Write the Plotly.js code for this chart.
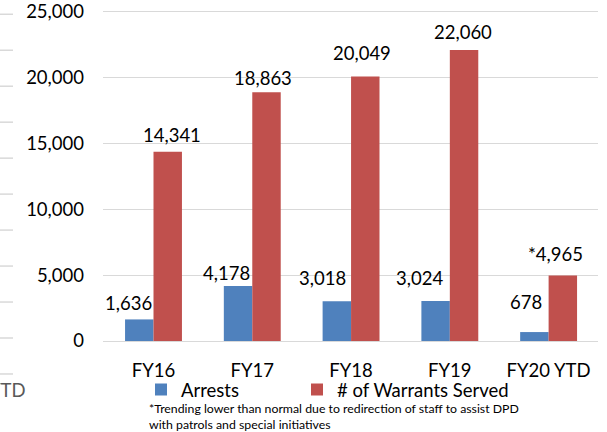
<!DOCTYPE html>
<html>
<head>
<meta charset="utf-8">
<script src="https://cdn.plot.ly/plotly-3.0.1.min.js"></script>
<style>html,body{margin:0;padding:0;background:#fff;}#chart{width:607px;height:432px;}</style>
</head>
<body>
<div id="chart"></div>
<script>
// ---- data ----
var categories = ['FY16', 'FY17', 'FY18', 'FY19', 'FY20 YTD'];
var arrests = [1636, 4178, 3018, 3024, 678];
var warrants = [14341, 18863, 20049, 22060, 4965];
var warrantsMark = ['', '', '', '', '*'];
var yTickVals = [0, 5000, 10000, 15000, 20000, 25000];
var yTickText = ['0', '5,000', '10,000', '15,000', '20,000', '25,000'];
var seriesNames = ['Arrests', '# of Warrants Served'];
var footnote = '*Trending lower than normal due to redirection of staff to assist DPD<br>with patrols and special initiatives';

// ---- label placement (px offsets, layout only) ----
var blueDx = [-25, -25.5, -28.5, -30.5, -23];
var blueDy = [16, 13, 23, 23, 30];
var redDx = [18.5, 10.5, 10.5, 13.5, 6.5];
var redDy = [17, 14, 24, 18, 21.5];

var FONT = 'Lato, "Open Sans", sans-serif';
function fmt(v) { return v.toLocaleString('en-US'); }

var traces = [
  {type: 'bar', name: seriesNames[0], x: categories, y: arrests, legend: 'legend',
   marker: {color: '#4F81BD'}, hoverinfo: 'skip'},
  {type: 'bar', name: seriesNames[1], x: categories, y: warrants, legend: 'legend2',
   marker: {color: '#C0504D'}, hoverinfo: 'skip'}
];

// plot geometry: zero line at y=341px, 25,000 at y=11px
var Y_MAX = 25400;
var PLOT_H = Y_MAX * 330 / 25000;
var TOP = 341 - PLOT_H;
function py2paper(py) { return (341 - py) / PLOT_H; }

var annotations = [];
categories.forEach(function (c, i) {
  annotations.push({x: c, y: arrests[i], xref: 'x', yref: 'y', text: fmt(arrests[i]),
    showarrow: false, xanchor: 'center', yanchor: 'middle', xshift: blueDx[i], yshift: blueDy[i],
    font: {family: FONT, size: 18.5, color: '#000'}});
  annotations.push({x: c, y: warrants[i], xref: 'x', yref: 'y', text: warrantsMark[i] + fmt(warrants[i]),
    showarrow: false, xanchor: 'center', yanchor: 'middle', xshift: redDx[i], yshift: redDy[i],
    font: {family: FONT, size: 18.5, color: '#000'}});
});
// footnote
annotations.push({xref: 'paper', yref: 'paper', x: (147 - 103) / 495, y: py2paper(416.5),
  xanchor: 'left', yanchor: 'middle', align: 'left', showarrow: false, text: footnote,
  font: {family: FONT, size: 12.3, color: '#000'}});
// fragment of neighbouring chart at left edge
annotations.push({xref: 'paper', yref: 'paper', x: (28 - 103) / 495, y: py2paper(390),
  xanchor: 'right', yanchor: 'middle', showarrow: false, text: 'YTD',
  font: {family: FONT, size: 18.5, color: '#595959'}});

var shapes = [];
[14, 50, 86, 122, 158, 194, 230, 266, 302, 338, 374].forEach(function (py) {
  var yy = py2paper(py);
  shapes.push({type: 'line', xref: 'paper', yref: 'paper', x0: (0 - 103) / 495, x1: (13 - 103) / 495,
    y0: yy, y1: yy, line: {color: '#d9d9d9', width: 1.5}});
});

var legendCommon = {orientation: 'h', xref: 'paper', yref: 'paper', xanchor: 'left',
  y: py2paper(371), yanchor: 'top',
  font: {family: FONT, size: 18.5, color: '#000'}, bgcolor: 'rgba(0,0,0,0)'};

var layout = {
  width: 607, height: 432,
  margin: {l: 103, r: 9, t: TOP, b: 91, pad: 0},
  paper_bgcolor: '#fff', plot_bgcolor: '#fff',
  font: {family: FONT, size: 18.5, color: '#000'},
  barmode: 'group', bargap: 0.424, bargroupgap: 0,
  showlegend: true,
  legend: Object.assign({}, legendCommon, {x: (141 - 103) / 495}),
  legend2: Object.assign({}, legendCommon, {x: (297 - 103) / 495}),
  xaxis: {type: 'category', showgrid: false, zeroline: false, showline: false, ticks: '',
    tickfont: {family: FONT, size: 18.5, color: '#000'}, ticklabelstandoff: 16, fixedrange: true},
  yaxis: {range: [0, Y_MAX], tickmode: 'array', tickvals: yTickVals, ticktext: yTickText,
    showgrid: true, gridcolor: '#d9d9d9', gridwidth: 1, zeroline: true, zerolinecolor: '#d9d9d9',
    zerolinewidth: 1, showline: false, ticks: '', ticklabelstandoff: 18, ticklabeloverflow: 'allow',
    tickfont: {family: FONT, size: 18.5, color: '#000'}, fixedrange: true},
  annotations: annotations,
  shapes: shapes
};

Plotly.newPlot('chart', traces, layout, {displayModeBar: false, staticPlot: true});
</script>
</body>
</html>
